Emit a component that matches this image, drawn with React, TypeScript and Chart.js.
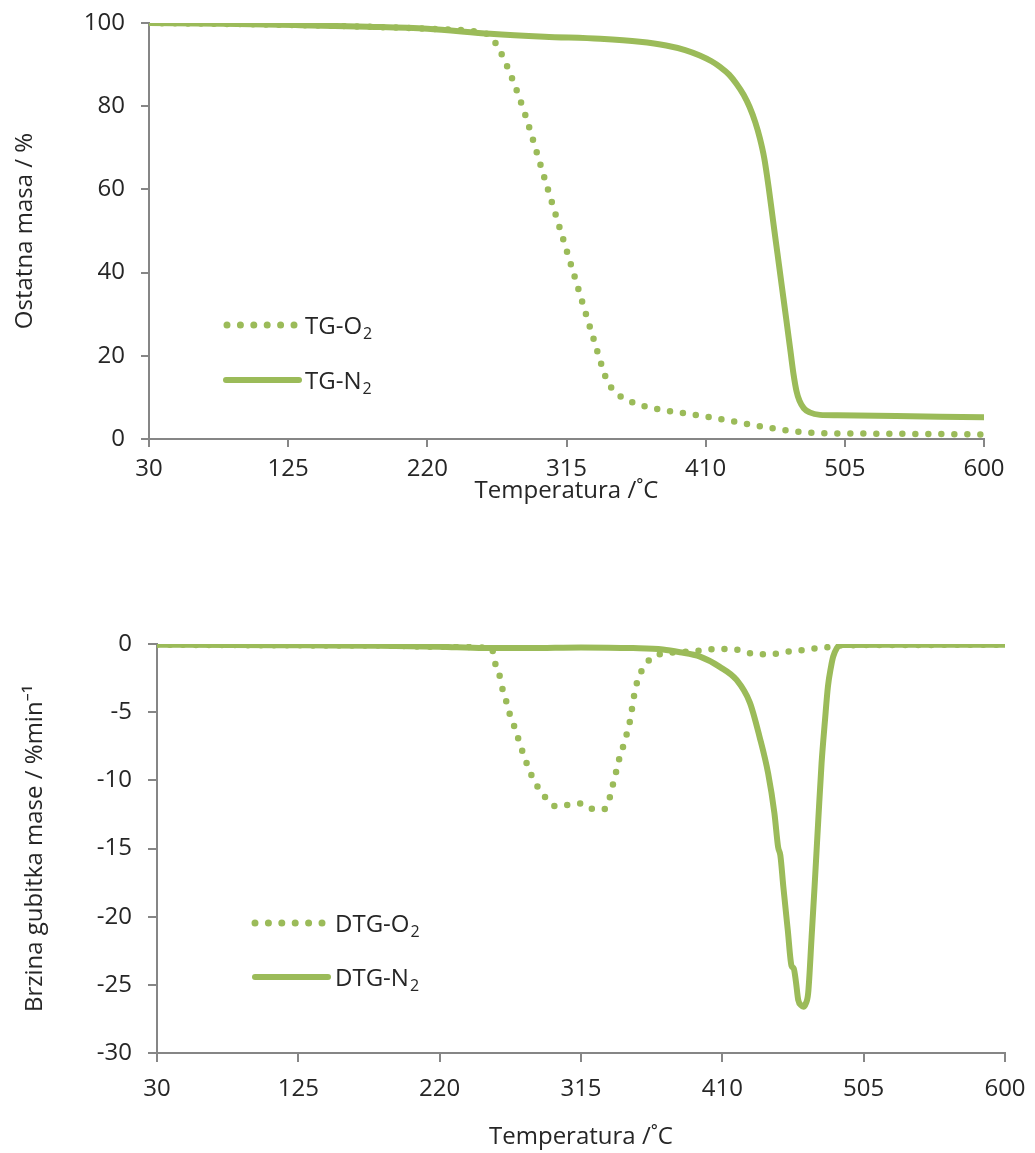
import React, { useEffect, useRef } from 'react';
import { Chart, registerables } from 'chart.js';

Chart.register(...registerables);

// ---------- data ----------
const xTicks = [30, 125, 220, 315, 410, 505, 600];
const tgYTicks = [0, 20, 40, 60, 80, 100];
const dtgYTicks = [-30, -25, -20, -15, -10, -5, 0];

const tgN2Temp = [30, 80, 130, 180, 220, 263, 300, 338, 365, 383, 396, 406, 414, 420, 426, 431, 436, 440, 444, 447, 450, 453, 456, 459, 462, 465, 468, 470, 472, 474, 477, 481, 488, 500, 540, 600];
const tgN2Mass = [100, 99.8, 99.5, 99.1, 98.6, 97.4, 96.7, 96.2, 95.5, 94.6, 93.5, 92.2, 90.8, 89.4, 87.6, 85.4, 82.7, 79.8, 76.0, 72.3, 67.5, 60.5, 52.5, 44.6, 36.7, 28.8, 20.8, 15.5, 11.5, 9.2, 7.4, 6.4, 5.8, 5.7, 5.5, 5.2];

const tgO2Temp = [30, 80, 130, 180, 220, 255, 263, 270, 277.5, 286.6, 294.6, 302.5, 310.5, 318.5, 326.4, 334.4, 340, 343, 349, 357, 365, 383, 397, 410.6, 423, 435.6, 450, 463, 475, 490, 520, 560, 600];
const tgO2Mass = [100, 99.8, 99.5, 99.1, 98.6, 97.8, 96.8, 93, 87, 78.2, 69, 59.8, 50.6, 41.4, 32.2, 23, 16.6, 13.8, 11, 9.3, 8.2, 6.8, 6.1, 5.4, 4.6, 3.8, 2.9, 2.2, 1.7, 1.4, 1.3, 1.2, 1.1];

const dtgN2Temp = [30, 80, 130, 180, 220, 250, 280, 315, 350, 370, 381.5, 395, 408, 419.6, 428.5, 435, 440.8, 445, 447.5, 449, 451, 454, 456.5, 458, 459.5, 461, 463, 464.5, 466, 467.7, 470, 472, 474.5, 476.7, 479, 481, 483, 484.5, 487, 489, 520, 600];
const dtgN2Rate = [-0.05, -0.08, -0.1, -0.12, -0.2, -0.3, -0.3, -0.25, -0.3, -0.4, -0.6, -0.93, -1.66, -2.64, -4.3, -6.8, -9.5, -12.4, -14.9, -15.5, -17.8, -21.0, -23.6, -23.8, -24.8, -26.1, -26.5, -26.6, -26.4, -25.6, -21.5, -17.8, -12.9, -8.75, -5.6, -3.1, -1.7, -0.93, -0.3, -0.07, -0.05, -0.05];

const dtgO2Temp = [30, 80, 130, 180, 220, 255, 257, 260, 262, 264.5, 267, 270, 273, 276, 279, 282, 286, 291.4, 298, 306, 315.4, 323, 331, 334.5, 336.5, 339, 341, 344, 346, 348, 349.5, 351, 353, 356.6, 362.7, 370.7, 380, 388, 398, 407, 416, 425, 433, 442, 451, 460, 469, 478, 490, 520, 560, 600];
const dtgO2Rate = [-0.05, -0.08, -0.1, -0.12, -0.2, -0.3, -1.3, -2.2, -3.2, -4.1, -5.1, -6.0, -7.0, -8.0, -8.9, -9.7, -10.5, -11.3, -11.9, -11.8, -11.7, -12.1, -12.1, -11.2, -10.3, -9.2, -8.3, -7.3, -6.5, -5.6, -4.6, -3.6, -2.7, -1.8, -1.0, -0.7, -0.6, -0.56, -0.44, -0.37, -0.37, -0.56, -0.76, -0.76, -0.6, -0.5, -0.37, -0.27, -0.1, -0.08, -0.06, -0.05];

const tgLegend = ['TG-O', 'TG-N'];
const dtgLegend = ['DTG-O', 'DTG-N'];
const legendSub = '2';

const xTitle = 'Temperatura /˚C';
const tgYTitle = 'Ostatna masa / %';
const dtgYTitle = 'Brzina gubitka mase / %min⁻¹';

// ---------- style ----------
const GREEN = '#9BBB59';
const AXIS = '#868686';
const TEXT = '#262626';
const FONT = '"Open Sans", "Noto Sans", "DejaVu Sans", sans-serif';
const FS = 24;
const W = 1035;

const toXY = (xs: number[], ys: number[]) => xs.map((x, i) => ({ x, y: ys[i] }));

const legendPlugin = {
  id: 'inlineLegend',
  afterDatasetsDraw(chart: any, _args: any, opts: any) {
    const ctx = chart.ctx;
    (opts.items || []).forEach((it: any) => {
      ctx.save();
      ctx.strokeStyle = GREEN;
      ctx.lineCap = 'round';
      ctx.lineWidth = it.dotted ? 7 : 6;
      ctx.setLineDash(it.dotted ? [0, 13.4] : []);
      ctx.beginPath();
      ctx.moveTo(it.x1, it.y);
      ctx.lineTo(it.x2, it.y);
      ctx.stroke();
      ctx.setLineDash([]);
      ctx.fillStyle = TEXT;
      ctx.textBaseline = 'alphabetic';
      ctx.textAlign = 'left';
      ctx.font = `${FS}px ${FONT}`;
      ctx.fillText(it.text, it.tx, it.y + 8.5);
      const w = ctx.measureText(it.text).width;
      ctx.font = `16px ${FONT}`;
      ctx.fillText(it.sub, it.tx + w + 1, it.y + 14);
      ctx.restore();
    });
  },
};

function makeConfig(p: any) {
  const lineBase = {
    borderColor: GREEN,
    backgroundColor: GREEN,
    pointRadius: 0,
    cubicInterpolationMode: 'monotone',
    borderCapStyle: 'round',
    borderJoinStyle: 'round',
    fill: false,
  };
  return {
    type: 'line',
    data: {
      datasets: [
        { ...lineBase, label: p.names[1] + legendSub, data: p.solid, borderWidth: 6, order: 0 },
        { ...lineBase, label: p.names[0] + legendSub, data: p.dotted, borderWidth: 6.5, borderDash: [0, 13], order: 1 },
      ],
    },
    options: {
      responsive: false,
      maintainAspectRatio: false,
      animation: false,
      events: [],
      layout: { padding: { top: p.top, right: W - p.right, left: 0, bottom: 0 } },
      plugins: {
        legend: { display: false },
        tooltip: { enabled: false },
        inlineLegend: { items: p.legendItems },
      },
      scales: {
        x: {
          type: 'linear',
          min: 30,
          max: 600,
          afterBuildTicks: (s: any) => { s.ticks = xTicks.map((v) => ({ value: v })); },
          afterFit: (s: any) => { s.height = p.height - p.bottom; s.paddingLeft = 0; s.paddingRight = 0; },
          grid: { display: true, drawOnChartArea: false, drawTicks: true, tickLength: p.tl, color: AXIS, lineWidth: 2 },
          border: { display: true, color: AXIS, width: 2 },
          ticks: { color: TEXT, font: { family: FONT, size: FS }, padding: p.xPad, maxRotation: 0, autoSkip: false },
          title: { display: true, text: xTitle, color: TEXT, font: { family: FONT, size: FS }, padding: { top: 0, bottom: p.xTitlePad } },
        },
        y: {
          type: 'linear',
          min: p.yMin,
          max: p.yMax,
          afterBuildTicks: (s: any) => { s.ticks = p.yTicks.map((v: number) => ({ value: v })); },
          afterFit: (s: any) => { s.width = p.left; s.paddingTop = 0; s.paddingBottom = 0; },
          grid: { display: true, drawOnChartArea: false, drawTicks: true, tickLength: p.tl, color: AXIS, lineWidth: 2 },
          border: { display: true, color: AXIS, width: 2 },
          ticks: { color: TEXT, font: { family: FONT, size: FS }, padding: p.yPad, autoSkip: false },
          title: { display: true, text: p.yTitle, color: TEXT, font: { family: FONT, size: FS }, padding: { top: p.yTitlePad, bottom: 0 } },
        },
      },
    },
    plugins: [legendPlugin],
  } as any;
}

function ChartCanvas({ config, height }: { config: any; height: number }) {
  const ref = useRef<HTMLCanvasElement | null>(null);
  useEffect(() => {
    if (!ref.current) return;
    const chart = new Chart(ref.current, config);
    return () => chart.destroy();
  }, [config]);
  return <canvas ref={ref} width={W} height={height} style={{ display: 'block', width: W, height }} />;
}

const tgConfig = makeConfig({
  names: tgLegend,
  solid: toXY(tgN2Temp, tgN2Mass),
  dotted: toXY(tgO2Temp, tgO2Mass),
  height: 520,
  top: 23,
  bottom: 439,
  left: 149,
  right: 984,
  tl: 8,
  xPad: 8,
  yPad: 16,
  xTitlePad: 14,
  yTitlePad: 11,
  yMin: 0,
  yMax: 100,
  yTicks: tgYTicks,
  yTitle: tgYTitle,
  legendItems: [
    { dotted: true, x1: 227, x2: 294, y: 325, tx: 305, text: tgLegend[0], sub: legendSub },
    { dotted: false, x1: 226, x2: 299, y: 380, tx: 305, text: tgLegend[1], sub: legendSub },
  ],
});

const dtgConfig = makeConfig({
  names: dtgLegend,
  solid: toXY(dtgN2Temp, dtgN2Rate),
  dotted: toXY(dtgO2Temp, dtgO2Rate),
  height: 633,
  top: 124,
  bottom: 533,
  left: 157,
  right: 1005,
  tl: 9,
  xPad: 13,
  yPad: 16,
  xTitlePad: 1,
  yTitlePad: 21,
  yMin: -30,
  yMax: 0,
  yTicks: dtgYTicks,
  yTitle: dtgYTitle,
  legendItems: [
    { dotted: true, x1: 255, x2: 323, y: 403, tx: 335, text: dtgLegend[0], sub: legendSub },
    { dotted: false, x1: 255, x2: 328, y: 457, tx: 335, text: dtgLegend[1], sub: legendSub },
  ],
});

export default function App() {
  useEffect(() => {
    document.body.style.margin = '0';
    document.body.style.background = '#ffffff';
  }, []);
  return (
    <div style={{ width: W, background: '#ffffff' }}>
      <ChartCanvas config={tgConfig} height={520} />
      <ChartCanvas config={dtgConfig} height={633} />
    </div>
  );
}
